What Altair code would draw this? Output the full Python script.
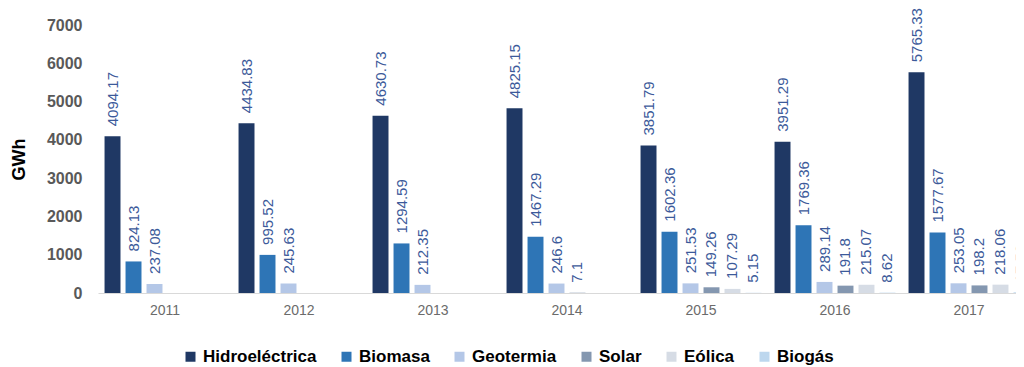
import altair as alt
import pandas as pd

years = ["2011", "2012", "2013", "2014", "2015", "2016", "2017"]
series = ["Hidroeléctrica", "Biomasa", "Geotermia", "Solar", "Eólica", "Biogás"]
hidro = [4094.17, 4434.83, 4630.73, 4825.15, 3851.79, 3951.29, 5765.33]
biomasa = [824.13, 995.52, 1294.59, 1467.29, 1602.36, 1769.36, 1577.67]
geotermia = [237.08, 245.63, 212.35, 246.6, 251.53, 289.14, 253.05]
solar = [None, None, None, 7.1, 149.26, 191.8, 198.2]
eolica = [None, None, None, None, 107.29, 215.07, 218.06]
biogas = [None, None, None, None, 5.15, 8.62, 17.56]
colors = ["#1F3864", "#2E75B6", "#B4C7E7", "#8497B0", "#D6DCE5", "#BDD7EE"]

rows = []
for name, vals in zip(series, [hidro, biomasa, geotermia, solar, eolica, biogas]):
    for y, v in zip(years, vals):
        if v is not None:
            rows.append({"year": y, "series": name, "value": v, "label": str(v)})
df = pd.DataFrame(rows)

FONT = "Liberation Sans"

base = alt.Chart(df).encode(
    x=alt.X(
        "year:N",
        sort=years,
        scale=alt.Scale(range=[0, 938], paddingInner=0.06, paddingOuter=0.03),
        axis=alt.Axis(
            title=None, labelAngle=0, ticks=False, grid=False,
            domainColor="#d9d9d9", labelPadding=10, labelFontSize=14,
            labelColor="#6b6b6b", labelFont=FONT,
        ),
    ),
    xOffset=alt.XOffset(
        "series:N", sort=series,
        scale=alt.Scale(domain=series, paddingInner=0.24, paddingOuter=0.12),
    ),
    y=alt.Y(
        "value:Q",
        scale=alt.Scale(domain=[0, 7000]),
        axis=alt.Axis(
            values=[0, 1000, 2000, 3000, 4000, 5000, 6000, 7000], format="d",
            grid=False, domain=False, ticks=False, labelPadding=16,
            labelFontSize=16, labelFontWeight="bold", labelColor="#595959",
            labelFont=FONT, title="GWh", titleFontSize=18,
            titleFontWeight="bold", titleColor="#000000", titleFont=FONT,
            titleAngle=270, titleX=-79, titleY=134, titleAlign="center",
            titleBaseline="middle",
        ),
    ),
)

bars = base.mark_bar().encode(
    color=alt.Color(
        "series:N",
        sort=series,
        scale=alt.Scale(domain=series, range=colors),
        legend=alt.Legend(
            orient="none", legendX=84, legendY=323, direction="horizontal",
            columns=6, title=None, symbolType="square", symbolSize=100,
            symbolStrokeWidth=0, labelFontSize=17, labelFont=FONT,
            labelFontWeight="bold", labelColor="#000000", labelOffset=4,
            columnPadding=21, padding=0,
        ),
    )
)

text = base.mark_text(
    angle=270, align="left", baseline="middle", dx=10, fontSize=15,
    font=FONT, color="#3c5a9a",
).encode(text="label:N")

chart = (
    (bars + text)
    .properties(
        width=918, height=268, autosize="none",
        padding={"left": 90, "top": 17, "right": 0, "bottom": 74},
    )
    .configure_view(stroke=None)
)

chart.save("out.html", embed_options={"renderer": "svg", "actions": False})
